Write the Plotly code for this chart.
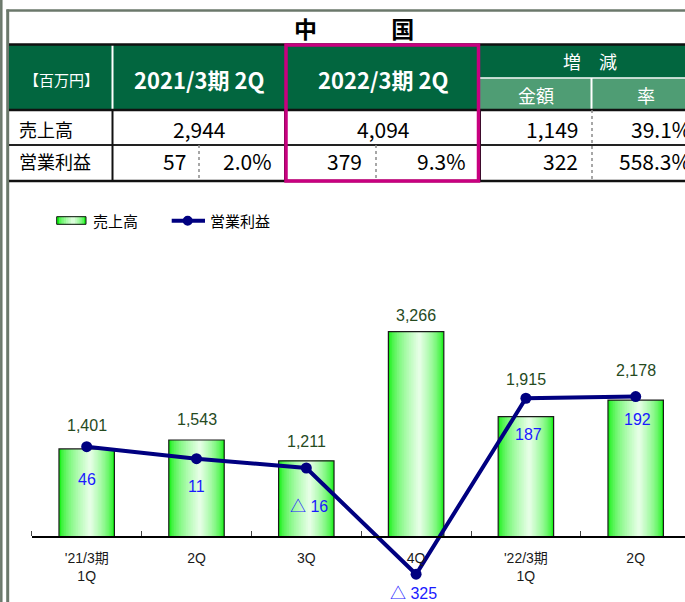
import plotly.graph_objects as go

# ---------------- data ----------------
categories = ["'21/3期<br>1Q", "2Q", "3Q", "4Q", "'22/3期<br>1Q", "2Q"]
sales = [1401, 1543, 1211, 3266, 1915, 2178]          # 売上高 (bars)
op_profit = [46, 11, -16, -325, 187, 192]             # 営業利益 (line)

table_title = "中　　　 国"
table_unit = "【百万円】"
table_periods = ["2021/3期 2Q", "2022/3期 2Q"]
table_change_head = "増　減"
table_change_cols = ["金額", "率"]
table_row_labels = ["売上高", "営業利益"]
table_sales = [2944, 4094]
table_op = [57, 379]
table_op_margin = [2.0, 9.3]
table_sales_change = [1149, 39.1]
table_op_change = [322, 558.3]

# ---------------- helpers ----------------
W, H = 685, 602
def X(px): return px / W
def Y(py): return 1 - py / H

JP = "Noto Sans CJK JP"
LAT = "Liberation Sans, Arial, Noto Sans CJK JP"
x_idx = list(range(len(categories)))

fig = go.Figure()

# gradient bars (layered overlay bars)
bar_w = 0.505
N = 18
edge = (18, 240, 18)
center = (236, 255, 236)
peak = 0.56
for k in range(N):
    t = k / N
    s = t ** 0.6
    c = tuple(round(e + (cc - e) * s) for e, cc in zip(edge, center))
    fig.add_trace(go.Bar(
        x=x_idx, y=sales, width=bar_w * (1 - t),
        offset=-bar_w / 2 + t * peak * bar_w,
        marker=dict(color="rgb(%d,%d,%d)" % c, line=dict(width=0)),
        showlegend=False, hoverinfo="skip"))
fig.add_trace(go.Bar(
    x=x_idx, y=sales, width=bar_w, offset=-bar_w / 2, name="売上高",
    marker=dict(color="rgba(0,0,0,0)", line=dict(color="#1a1a1a", width=1.2)),
    showlegend=False))
fig.add_trace(go.Scatter(
    x=x_idx, y=op_profit, yaxis="y2", mode="lines+markers", name="営業利益",
    line=dict(color="#000080", width=4),
    marker=dict(size=11, color="#000080"), showlegend=False))

annotations = []
# bar value labels
bar_label_shift = [23, 20, 19, 16, 37, 30]
for i, v, sh in zip(x_idx, sales, bar_label_shift):
    annotations.append(dict(x=i, y=v, xref="x", yref="y", text=f"{v:,}",
                            showarrow=False, yanchor="middle", yshift=sh,
                            font=dict(family=LAT, size=16, color="#264a1e")))
# line value labels
op_dy = [33, 28, 38, 19, 36, 23]
op_dx = [0, 0, 3, -3, 3, 2]
for i, v, dy, dx in zip(x_idx, op_profit, op_dy, op_dx):
    txt = f"△ {abs(v)}" if v < 0 else f"{v}"
    annotations.append(dict(x=i, y=v, xref="x", yref="y2", text=txt,
                            showarrow=False, yanchor="middle", yshift=-dy, xshift=dx,
                            font=dict(family=LAT, size=16, color="#1a1aff")))

shapes = []
def line(x0, y0, x1, y1, color, width, dash="solid"):
    shapes.append(dict(type="line", xref="paper", yref="paper",
                       x0=X(x0), y0=Y(y0), x1=X(x1), y1=Y(y1),
                       line=dict(color=color, width=width, dash=dash)))
def rect(x0, y0, x1, y1, fill, lc=None, lw=0):
    shapes.append(dict(type="rect", xref="paper", yref="paper",
                       x0=X(x0), y0=Y(y0), x1=X(x1), y1=Y(y1), fillcolor=fill,
                       line=dict(color=lc or fill, width=lw), layer="above"))

GRAY = "#6b786b"
DG = "#02663f"
LG = "#4f9d74"
# frame
line(1.3, 0, 1.3, 602, GRAY, 2.5)
line(7.7, 9.5, 7.7, 602, GRAY, 3)
line(6.5, 10.5, 700, 10.5, GRAY, 2.5)
# header
rect(9, 45, 700, 109.5, DG)
rect(480, 78.5, 700, 109.5, LG)
line(112.5, 45, 112.5, 109.5, "white", 2)
line(480, 78, 700, 78, "white", 1.5)
line(591.5, 78, 591.5, 109.5, "white", 2)
# black grid
line(9, 44.5, 700, 44.5, "#111111", 2.5)
line(9, 110, 700, 110, "#111111", 2.5)
line(9, 145, 700, 145, "#222222", 2)
line(9, 181, 700, 181, "#111111", 2.5)
line(112.5, 110, 112.5, 181, "#111111", 2)
line(285, 110, 285, 181, "#111111", 2)
line(480, 110, 480, 181, "#111111", 2)
line(199, 145, 199, 181, "#8a8a8a", 1.5, "dot")
line(376, 145, 376, 181, "#8a8a8a", 1.5, "dot")
line(592, 110, 592, 181, "#8a8a8a", 1.5, "dot")
# highlight box
shapes.append(dict(type="rect", xref="paper", yref="paper",
                   x0=X(286), y0=Y(45), x1=X(478.5), y1=Y(181),
                   line=dict(color="#c8007f", width=3.5), layer="above"))

def txt(x, y, s, size, color="black", anchor="center", bold=False, family=JP):
    annotations.append(dict(x=X(x), y=Y(y), xref="paper", yref="paper", text=s,
                            showarrow=False, xanchor=anchor, yanchor="middle",
                            font=dict(family=family, size=size, color=color,
                                      weight="bold" if bold else "normal")))

txt(354, 28, table_title, 23, bold=True)
txt(61, 80, table_unit, 15, "white")
txt(199, 79.5, table_periods[0], 22, "white", bold=True)
txt(382.5, 79.5, table_periods[1], 22, "white", bold=True)
txt(590, 61, table_change_head, 18, "white")
txt(535.5, 95, table_change_cols[0], 18, "white")
txt(646, 95, table_change_cols[1], 18, "white")
txt(17, 129, table_row_labels[0], 18, anchor="left")
txt(17, 161, table_row_labels[1], 18, anchor="left")
txt(199, 129, f"{table_sales[0]:,}", 21)
txt(382.5, 129, f"{table_sales[1]:,}", 21)
txt(580, 129, f"{table_sales_change[0]:,}", 21, anchor="right")
txt(693, 129, f"{table_sales_change[1]:.1f}%", 21, anchor="right")
txt(188, 160.5, f"{table_op[0]:,}", 21, anchor="right")
txt(274, 160.5, f"{table_op_margin[0]:.1f}%", 21, anchor="right")
txt(364, 160.5, f"{table_op[1]:,}", 21, anchor="right")
txt(468, 160.5, f"{table_op_margin[1]:.1f}%", 21, anchor="right")
txt(580, 160.5, f"{table_op_change[0]:,}", 21, anchor="right")
txt(693, 160.5, f"{table_op_change[1]:.1f}%", 21, anchor="right")

# manual legend
lg_layers = 7
for k in range(lg_layers):
    t = k / lg_layers
    s = t ** 0.6
    c = tuple(round(e + (cc - e) * s) for e, cc in zip(edge, center))
    x0 = 56.7 + t * peak * 29.3
    x1 = 86 - t * (1 - peak) * 29.3
    rect(x0, 216.7, x1, 224.3, "rgb(%d,%d,%d)" % c)
shapes.append(dict(type="rect", xref="paper", yref="paper",
                   x0=X(56.7), y0=Y(216.7), x1=X(86), y1=Y(224.3),
                   line=dict(color="#111111", width=1), layer="above"))
txt(91.5, 220.7, "売上高", 15, anchor="left")
line(171.7, 220.7, 205, 220.7, "#000080", 4)
shapes.append(dict(type="circle", xref="paper", yref="paper",
                   x0=X(182.7), y0=Y(215.7), x1=X(192.7), y1=Y(225.7),
                   fillcolor="#000080", line=dict(color="#000080", width=0),
                   layer="above"))
txt(208, 220.7, "営業利益", 15, anchor="left")

fig.update_layout(
    width=W, height=H, margin=dict(l=0, r=0, t=0, b=0),
    paper_bgcolor="white", plot_bgcolor="white",
    barmode="overlay", showlegend=False,
    shapes=shapes, annotations=annotations,
    xaxis=dict(domain=[31.8 / W, 1], range=[-0.5, 5.449], anchor="free",
               position=1 - 537 / H, showline=True, linecolor="black", linewidth=2,
               tickmode="array", tickvals=x_idx, ticktext=categories, ticks="",
               ticklabelstandoff=8,
               showgrid=False, zeroline=False,
               tickfont=dict(family=LAT, size=14, color="#1a1a1a"),
               minor=dict(tickmode="array", tickvals=[i - 0.5 for i in x_idx],
                          ticks="inside", ticklen=5, tickcolor="#444444", tickwidth=1)),
    yaxis=dict(domain=[1 - 600 / H, 1 - 280 / H], range=[-1002, 4088],
               showgrid=False, zeroline=False, showticklabels=False, ticks=""),
    yaxis2=dict(overlaying="y", side="right", range=[-400, 531],
                showgrid=False, zeroline=False, showticklabels=False, ticks=""),
)

fig.write_html("out.html", config={"displayModeBar": False},
               post_script="document.body.style.margin='0';document.body.style.overflow='hidden';")
